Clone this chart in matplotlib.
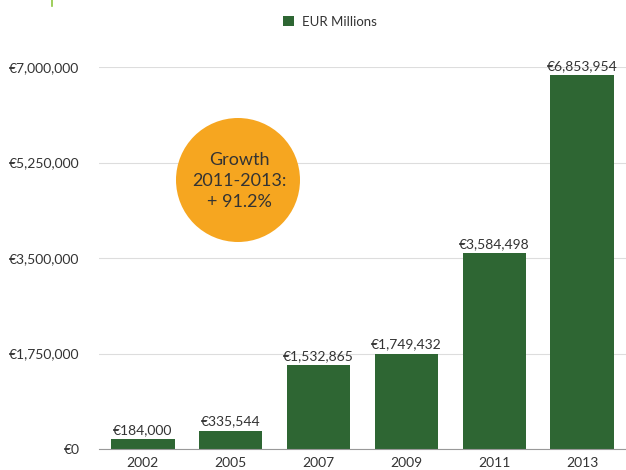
import matplotlib.pyplot as plt
from matplotlib.patches import Circle
from matplotlib.lines import Line2D

years = ['2002', '2005', '2007', '2009', '2011', '2013']
values = [184000, 335544, 1532865, 1749432, 3584498, 6853954]
yticks = [0, 1750000, 3500000, 5250000, 7000000]

bar_color = '#2e6633'
text_color = '#333333'
plt.rcParams['font.family'] = ['Lato', 'DejaVu Sans']

fig = plt.figure(figsize=(6.26, 4.70), dpi=100)
ax = fig.add_axes([99 / 626, 21 / 470, 527 / 626, 382 / 470])

x = range(len(years))
bars = ax.bar(x, values, width=0.72, color=bar_color, zorder=3, label='EUR Millions')

for xi, v in zip(x, values):
    ax.text(xi, v + 60000, '€{:,}'.format(v), ha='center', va='bottom',
            fontsize=10, color=text_color, clip_on=False, zorder=4)

ax.set_xlim(-0.5, 5.5)
ax.set_ylim(0, 7000000)
ax.set_yticks(yticks)
ax.set_yticklabels(['€{:,}'.format(t) for t in yticks])
ax.set_xticks(list(x))
ax.set_xticklabels(years)
ax.tick_params(axis='y', length=0, pad=14, labelsize=10, labelcolor=text_color)
ax.tick_params(axis='x', length=0, pad=6, labelsize=10, labelcolor=text_color)

ax.grid(axis='y', color='#dddddd', linewidth=0.8, zorder=0)
for s in ['top', 'right', 'left']:
    ax.spines[s].set_visible(False)
ax.spines['bottom'].set_color('#999999')
ax.spines['bottom'].set_linewidth(0.8)
ax.spines['bottom'].set_zorder(5)

# growth bubble
circ = Circle((2.38, 2.90), 0.62, transform=fig.dpi_scale_trans,
              facecolor='#f6a620', edgecolor='none', zorder=6)
fig.add_artist(circ)
fig.text(239 / 626, 1 - 181 / 470, 'Growth\n2011-2013:\n+ 91.2%', ha='center', va='center',
         fontsize=13, color=text_color, linespacing=1.35, zorder=7)

# legend
fig.legend(handles=[bars], labels=['EUR Millions'], loc='center',
           bbox_to_anchor=(330 / 626, 1 - 22 / 470), frameon=False, fontsize=9.5,
           handlelength=0.8, handleheight=0.8, handletextpad=0.6, labelcolor=text_color)

# small mark in the top left corner
fig.add_artist(Line2D([52 / 626, 52 / 626], [1, 1 - 6 / 470], color='#8dc63f', linewidth=1.2))

fig.savefig('out.png', dpi=100)
